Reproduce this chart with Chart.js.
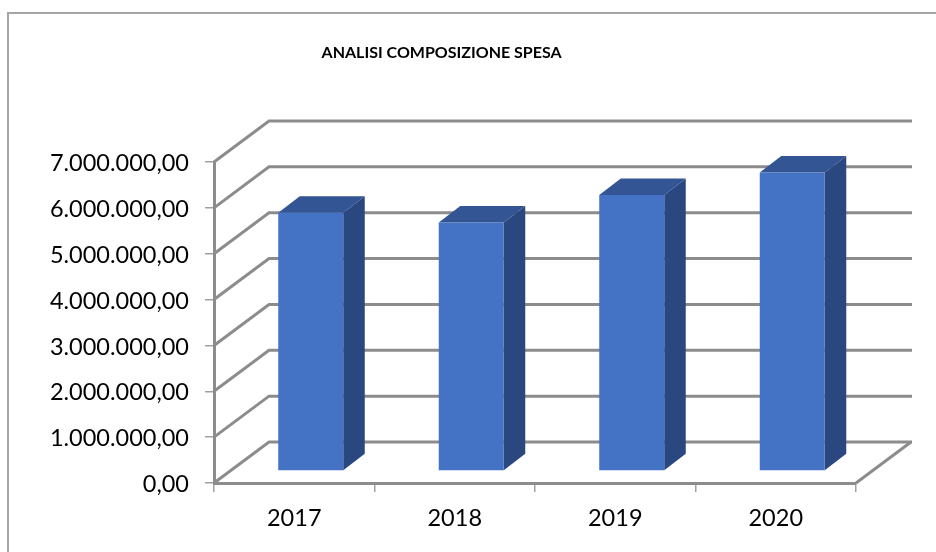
<!DOCTYPE html>
<html>
<head>
<meta charset="utf-8">
<script src="https://cdn.jsdelivr.net/npm/chart.js@4"></script>
<style>
  html, body { margin: 0; padding: 0; background: #fff; }
  #wrap { position: relative; width: 936px; height: 552px; overflow: hidden; }
  #frame { position: absolute; left: 7px; top: 12px; right: -5px; bottom: -5px; border-left: 2px solid #a6a6a6; border-top: 2px solid #a6a6a6; }
  canvas { position: absolute; left: 0; top: 0; }
</style>
</head>
<body>
<div id="wrap">
  <div id="frame"></div>
  <canvas id="chart" width="936" height="552"></canvas>
</div>
<script>
const years = ['2017', '2018', '2019', '2020'];
const spesa = [5630000, 5420000, 6020000, 6510000];
const yTicks = ['0,00', '1.000.000,00', '2.000.000,00', '3.000.000,00', '4.000.000,00', '5.000.000,00', '6.000.000,00', '7.000.000,00'];
const chartTitle = 'ANALISI COMPOSIZIONE SPESA';

const gridColor = '#8c8c8c';
const tickColor = '#a0a0a0';
const sideColor = '#2a4780';
const topColor = '#335594';

// depth of the back wall and of the boxes, in px
const wallDx = 55, wallDy = 41;
const barShiftX = 16.5, barShiftY = 12;
const boxDx = 21.5, boxDy = 16.5;

// title sits off the plot centre
const moveTitle = {
  id: 'moveTitle',
  afterLayout(chart) {
    chart.titleBlock.left += 13.6;
    chart.titleBlock.right += 13.6;
  }
};

// back wall and floor of the 3d box
const wall = {
  id: 'wall',
  beforeDatasetsDraw(chart) {
    const { ctx, chartArea, scales } = chart;
    const { left, right, bottom } = chartArea;
    ctx.save();
    ctx.strokeStyle = gridColor;
    ctx.lineWidth = 3;
    ctx.lineJoin = 'miter';
    yTicks.forEach((t, i) => {
      const y = scales.y.getPixelForValue(i * 1000000);
      ctx.beginPath();
      ctx.moveTo(left, y);
      ctx.lineTo(left + wallDx, y - wallDy);
      ctx.lineTo(right + wallDx + 1, y - wallDy);
      ctx.stroke();
    });
    ctx.beginPath();
    ctx.moveTo(right, bottom);
    ctx.lineTo(right + wallDx, bottom - wallDy);
    ctx.stroke();
    ctx.restore();
  }
};

// shift the bars into the box and add top and side faces
const box3d = {
  id: 'box3d',
  beforeDatasetDraw(chart, args) {
    const ctx = chart.ctx;
    ctx.save();
    ctx.translate(barShiftX, -barShiftY);
    args.meta.data.forEach(bar => {
      const l = bar.x - bar.width / 2, r = bar.x + bar.width / 2;
      ctx.fillStyle = topColor;
      ctx.beginPath();
      ctx.moveTo(l, bar.y);
      ctx.lineTo(l + boxDx, bar.y - boxDy);
      ctx.lineTo(r + boxDx, bar.y - boxDy);
      ctx.lineTo(r, bar.y);
      ctx.closePath();
      ctx.fill();
      ctx.fillStyle = sideColor;
      ctx.beginPath();
      ctx.moveTo(r, bar.y);
      ctx.lineTo(r + boxDx, bar.y - boxDy);
      ctx.lineTo(r + boxDx, bar.base - boxDy);
      ctx.lineTo(r, bar.base);
      ctx.closePath();
      ctx.fill();
    });
  },
  afterDatasetDraw(chart) {
    chart.ctx.restore();
  }
};

new Chart(document.getElementById('chart').getContext('2d'), {
  type: 'bar',
  data: {
    labels: years,
    datasets: [{
      data: spesa,
      backgroundColor: '#4472c4',
      categoryPercentage: 1,
      barPercentage: 0.405
    }]
  },
  options: {
    responsive: false,
    animation: false,
    layout: { padding: { right: 80 } },
    plugins: {
      legend: { display: false },
      tooltip: { enabled: false },
      title: {
        display: true,
        text: chartTitle,
        color: '#000',
        font: { family: 'Lato', size: 16, weight: 'bold' },
        padding: { top: 43.5, bottom: 99.3 }
      }
    },
    scales: {
      x: {
        afterFit(scale) { scale.height = 69; },
        grid: { drawOnChartArea: false, color: tickColor, tickLength: 9, lineWidth: 1.5 },
        border: { color: gridColor, width: 3 },
        ticks: { color: '#000', font: { family: 'Lato', size: 23.5 }, padding: 12, maxRotation: 0 }
      },
      y: {
        min: 0,
        max: 7000000,
        afterFit(scale) { scale.width = 214; },
        grid: { drawOnChartArea: false, color: tickColor, tickLength: 9, lineWidth: 1.5 },
        border: { color: gridColor, width: 3 },
        ticks: {
          stepSize: 1000000,
          color: '#000',
          font: { family: 'Lato', size: 23.5 },
          padding: 16,
          labelOffset: 1.5,
          callback: (v, i) => yTicks[i]
        }
      }
    }
  },
  plugins: [moveTitle, wall, box3d]
});
</script>
</body>
</html>
